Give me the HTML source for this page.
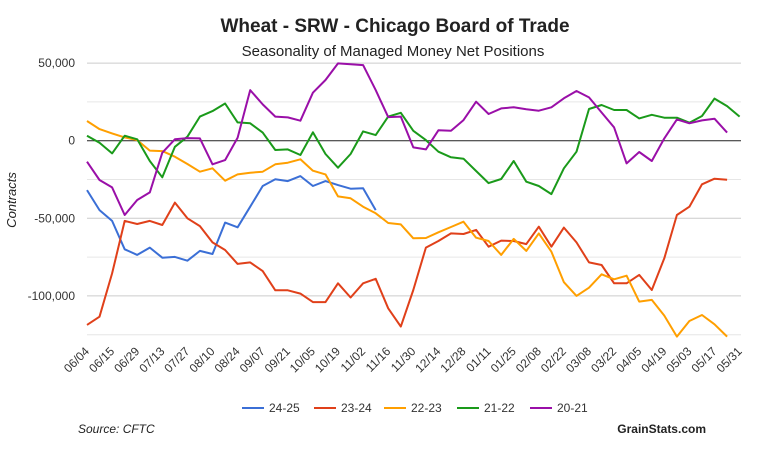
<!DOCTYPE html>
<html><head><meta charset="utf-8"><style>
body{margin:0;background:#fff;}
svg{display:block;font-family:"Liberation Sans",Arial,sans-serif;}
</style></head><body>
<svg id="chart" width="775" height="450" xmlns="http://www.w3.org/2000/svg">
<text x="395" y="32" text-anchor="middle" font-size="19" font-weight="bold" fill="#222">Wheat - SRW - Chicago Board of Trade</text>
<text x="393" y="56" text-anchor="middle" font-size="15" fill="#222">Seasonality of Managed Money Net Positions</text>
<text transform="translate(16,200) rotate(-90)" text-anchor="middle" font-size="13" font-style="italic" fill="#222">Contracts</text>
<g id="grid"></g><g id="series"></g><g id="xlabels"></g><g id="legend"></g>
<text x="78" y="433" font-size="12" font-style="italic" fill="#222">Source: CFTC</text>
<text x="706" y="433" text-anchor="end" font-size="12" font-weight="bold" fill="#222">GrainStats.com</text>
</svg>
<script>
const xLabels=["06/04","06/15","06/29","07/13","07/27","08/10","08/24","09/07","09/21","10/05","10/19","11/02","11/16","11/30","12/14","12/28","01/11","01/25","02/08","02/22","03/08","03/22","04/05","04/19","05/03","05/17","05/31"];
const yTicks=[50000,25000,0,-25000,-50000,-75000,-100000,-125000];
const seriesNames=["24-25","23-24","22-23","21-22","20-21"];
const seriesColors=["#3b6fd6","#e0401a","#ff9f00","#1a9a1a","#9a0fa8"];
const s2425=[-31.8,-44.7,-51.7,-70,-73.6,-68.9,-75.4,-74.9,-77.3,-71,-73,-52.8,-55.8,-42.5,-29.2,-24.9,-26,-22.8,-29.2,-26,-28.6,-30.9,-30.7,-44.7];
const s2324=[-118.7,-113.4,-85.5,-51.7,-53.7,-51.7,-54.3,-39.9,-50,-55,-65.5,-70.4,-79.4,-78.4,-84,-96.4,-96.4,-98.5,-104,-104,-91.9,-101,-91.9,-89,-108,-119.8,-96.2,-68.9,-64.6,-59.7,-60.1,-57.5,-68.3,-64.4,-64.6,-66.6,-55.4,-68.3,-56,-65.5,-78.4,-80.1,-91.9,-91.9,-86.5,-96.2,-75.8,-47.9,-42.5,-28.1,-24.5,-25.1];
const s2223=[12.7,7.5,4.7,2.1,0.4,-6.4,-6.7,-10.3,-15,-20,-17.8,-25.8,-21.7,-20.6,-20,-15.2,-14.2,-12,-19.3,-21.7,-35.9,-37.1,-42.5,-46.8,-53,-53.9,-62.9,-62.7,-59,-55.6,-52.2,-62.5,-64.6,-73.6,-63.3,-71,-59.7,-71.5,-91.2,-100,-94.7,-86.1,-89.3,-87,-103.7,-102.6,-112.7,-126.2,-116.2,-112.3,-118.3,-126.2];
const s2122=[3.2,-1.3,-8.2,3.2,0.9,-13.1,-23.6,-3.9,2.6,15.5,19.1,24,11.8,11.2,5.2,-6,-5.6,-9.2,5.4,-8.6,-17.4,-8.6,6,3.6,15.5,18,6.4,0.4,-7.1,-10.7,-11.6,-19.5,-27.3,-24.7,-13.1,-26.4,-29.2,-34.4,-17.8,-7.1,20.4,23,19.8,19.8,14.4,16.7,14.8,14.8,11.6,15.9,27.1,22.3,15.5];
const s2021=[-13.5,-25.3,-30.1,-47.9,-38.2,-33.3,-7.7,0.9,1.7,1.5,-15.2,-12.5,1.9,32.6,23.4,15.5,15,12.9,30.9,39.1,49.8,49.2,48.7,32.6,15.2,15.5,-4.3,-5.6,6.7,6.4,13.3,25.1,17.2,20.8,21.5,20.2,19.3,21.5,27.3,32,27.9,18.2,8.6,-14.6,-7.3,-13.1,1.5,13.7,11.2,13.1,14.2,5.2];
const allSeries=[s2425,s2324,s2223,s2122,s2021];
const NS="http://www.w3.org/2000/svg";
const x0=87,xStep=12.55,yZero=140.7,yPer25k=38.8;
function xs(i){return x0+i*xStep;}
function ys(v){return yZero-v*1000/25000*yPer25k;}
function mk(t,a,p){const e=document.createElementNS(NS,t);for(const k in a)e.setAttribute(k,a[k]);p.appendChild(e);return e;}
const grid=document.getElementById('grid');
yTicks.forEach(v=>{
  const y=ys(v/1000);
  const l=mk('line',{x1:87,x2:741,y1:y,y2:y,stroke:v===0?'#222':(v%50000===0?'#ccc':'#e6e6e6'),'stroke-width':1},grid);
  
  
  if(v%50000===0){
    const t=mk('text',{x:75,y:y+4,'text-anchor':'end','font-size':12,fill:'#333'},grid);
    t.textContent=v.toLocaleString('en-US');
    
    
  }
});
const xl=document.getElementById('xlabels');
xLabels.forEach((s,k)=>{
  const x=xs(k*2)+3,y=352;
  const t=mk('text',{x:x,y:y,'text-anchor':'end','font-size':12,fill:'#333',transform:`rotate(-45 ${x} ${y})`},xl);
  t.textContent=s;
  
  
});
const sg=document.getElementById('series');
allSeries.forEach((d,si)=>{
  const pts=d.map((v,i)=>xs(i).toFixed(1)+','+ys(v).toFixed(1)).join(' ');
  const p=mk('polyline',{points:pts,fill:'none',stroke:seriesColors[si],'stroke-width':2,'stroke-linejoin':'round'},sg);
  
  
});
const lg=document.getElementById('legend');
const legX=[242,314,384,457,530];
seriesNames.forEach((n,i)=>{
  const g=mk('g',{},lg);
  
  
  mk('line',{x1:legX[i],x2:legX[i]+22,y1:408,y2:408,stroke:seriesColors[i],'stroke-width':2},g);
  const t=mk('text',{x:legX[i]+27,y:412,'font-size':12,fill:'#333'},g);
  t.textContent=n;
});
</script>
</body></html>
